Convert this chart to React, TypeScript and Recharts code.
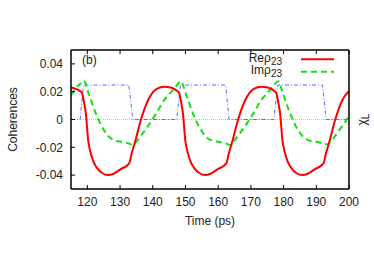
import React from 'react';
import { LineChart, Line, XAxis, YAxis, ReferenceLine } from 'recharts';

const redT = [115, 117, 118.3, 119.0, 119.5, 120.3, 121, 121.8, 123, 124.5, 126.4, 128, 130, 132.8, 133.6, 134.6, 136.4, 138.6, 141.2, 143.5, 145.5, 147.5, 148.0, 148.7, 149.2, 150.0, 150.7, 151.5, 152.7, 154.2, 156.1, 157.7, 159.7, 162.5, 163.3, 164.3, 166.1, 168.3, 170.9, 173.2, 175.2, 177.2, 177.7, 178.4, 178.9, 179.7, 180.4, 181.2, 182.4, 183.9, 185.8, 187.4, 189.4, 192.2, 193.0, 194.0, 195.8, 198.0, 200.0];
const redV = [0.023, 0.0215, 0.0195, 0.012, 0.005, -0.016, -0.024, -0.030, -0.035, -0.0385, -0.040, -0.039, -0.036, -0.0315, -0.024, -0.016, 0.0, 0.014, 0.022, 0.0236, 0.023, 0.0205, 0.0195, 0.012, 0.005, -0.016, -0.024, -0.030, -0.035, -0.0385, -0.040, -0.039, -0.036, -0.0315, -0.024, -0.016, 0.0, 0.014, 0.022, 0.0236, 0.023, 0.0205, 0.0195, 0.012, 0.005, -0.016, -0.024, -0.030, -0.035, -0.0385, -0.040, -0.039, -0.036, -0.0315, -0.024, -0.016, 0.0, 0.014, 0.0205];

const greenT = [115, 116, 117, 118, 119, 119.8, 120.5, 121.3, 122.3, 123.4, 124.4, 125.4, 126.4, 127.4, 129, 130.5, 132.3, 134.0, 135.3, 136.6, 138.3, 139.9, 141.7, 143.5, 145.3, 147, 148.7, 149.5, 150.2, 151.0, 152.0, 153.1, 154.1, 155.1, 156.1, 157.1, 158.7, 160.2, 162.0, 163.7, 165.0, 166.3, 168.0, 169.6, 171.4, 173.2, 175.0, 176.7, 178.4, 179.2, 179.9, 180.7, 181.7, 182.8, 183.8, 184.8, 185.8, 186.8, 188.4, 189.9, 191.7, 193.4, 194.7, 196.0, 197.7, 199.3, 200];
const greenV = [0.0176, 0.021, 0.024, 0.026, 0.028, 0.023, 0.018, 0.0128, 0.006, 0.0, -0.005, -0.0088, -0.012, -0.014, -0.0155, -0.016, -0.017, -0.0183, -0.015, -0.011, -0.0055, 0.0, 0.007, 0.014, 0.019, 0.0235, 0.0275, 0.023, 0.018, 0.0128, 0.006, 0.0, -0.005, -0.0088, -0.012, -0.014, -0.0155, -0.016, -0.017, -0.0183, -0.015, -0.011, -0.0055, 0.0, 0.007, 0.014, 0.019, 0.0235, 0.0275, 0.023, 0.018, 0.0128, 0.006, 0.0, -0.005, -0.0088, -0.012, -0.014, -0.0155, -0.016, -0.017, -0.0178, -0.015, -0.011, -0.0055, 0.0, 0.0025];

const blueT = [115, 117.8, 118.8, 132.7, 133.9, 147.3, 148.5, 162.3, 163.3, 177.0, 178.2, 191.9, 193.0, 200];
const blueV = [0, 0, 0.0248, 0.0248, 0, 0, 0.0248, 0.0248, 0, 0, 0.0248, 0.0248, 0, 0];

const xTicks = [120, 130, 140, 150, 160, 170, 180, 190, 200];
const yTicks = [-0.04, -0.02, 0, 0.02, 0.04];
const xDomain = [115, 200];
const yDomain = [-0.05, 0.05];

const redData = redT.map((t, i) => ({ t, v: redV[i] }));
const greenData = greenT.map((t, i) => ({ t, v: greenV[i] }));
const blueData = blueT.map((t, i) => ({ t, v: blueV[i] }));

const FONT = '"Liberation Sans", Arial, sans-serif';
const RED = '#ff0000';
const GREEN = '#11e011';
const BLUE = '#6666ff';

const LegendBox = () => (
  <svg width={278} height={30} style={{ display: 'block', overflow: 'visible' }}>
    <text x={11} y={14} fontFamily={FONT} fontSize={12} fill="#222">(b)</text>
    <text x={211} y={12} textAnchor="end" fontFamily={FONT} fontSize={12} fill="#222">
      Reρ<tspan fontSize={10} dy={3}>23</tspan>
    </text>
    <line x1={230} x2={263} y1={9.3} y2={9.3} stroke={RED} strokeWidth={2} />
    <text x={211} y={24} textAnchor="end" fontFamily={FONT} fontSize={12} fill="#222">
      Imρ<tspan fontSize={10} dy={3}>23</tspan>
    </text>
    <line x1={230} x2={263} y1={21.7} y2={21.7} stroke={GREEN} strokeWidth={2} strokeDasharray="6 4" />
  </svg>
);

export default function App() {
  return (
    <div style={{ position: 'fixed', left: 0, top: 0, width: 374, height: 262, background: '#fff' }}>
      <LineChart width={374} height={262} margin={{ top: 48, right: 0, bottom: 43, left: 0 }}>
        <XAxis
          xAxisId="b"
          type="number"
          dataKey="t"
          domain={xDomain}
          ticks={xTicks}
          allowDataOverflow
          height={30}
          tickSize={-4}
          tickMargin={12}
          axisLine={{ stroke: '#000', strokeWidth: 1.5 }}
          tickLine={{ stroke: '#000' }}
          tick={{ fontFamily: FONT, fontSize: 12, fill: '#222' }}
          label={(p: any) => {
            const vb = p.viewBox;
            return (
              <text x={vb.x + vb.width / 2} y={vb.y + 36} textAnchor="middle" fontFamily={FONT} fontSize={12} fill="#222">
                Time (ps)
              </text>
            );
          }}
        />
        <XAxis
          xAxisId="top"
          orientation="top"
          type="number"
          dataKey="t"
          domain={xDomain}
          ticks={xTicks}
          allowDataOverflow
          height={2}
          tickSize={-4}
          tickMargin={0}
          tick={{ fontSize: 1, fill: 'none' }}
          tickFormatter={() => ''}
          axisLine={{ stroke: '#000', strokeWidth: 1.5 }}
          tickLine={{ stroke: '#000' }}
        />
        <YAxis
          yAxisId="l"
          type="number"
          domain={yDomain}
          ticks={yTicks}
          allowDataOverflow
          width={71}
          tickSize={-4}
          tickMargin={12}
          axisLine={{ stroke: '#000', strokeWidth: 1.5 }}
          tickLine={{ stroke: '#000' }}
          tick={{ fontFamily: FONT, fontSize: 12, fill: '#222' }}
          label={(p: any) => {
            const vb = p.viewBox;
            const cy = vb.y + vb.height / 2;
            return (
              <text x={17} y={cy} transform={`rotate(-90 17 ${cy})`} textAnchor="middle" fontFamily={FONT} fontSize={12} fill="#222">
                Coherences
              </text>
            );
          }}
        />
        <YAxis
          yAxisId="r"
          orientation="right"
          type="number"
          domain={yDomain}
          allowDataOverflow
          width={25}
          tick={false}
          tickLine={false}
          axisLine={{ stroke: '#000', strokeWidth: 1.5 }}
          label={(p: any) => {
            const vb = p.viewBox;
            const cy = vb.y + vb.height / 2;
            const cx = vb.x + 17;
            return (
              <text x={cx} y={cy} transform={`rotate(-90 ${cx} ${cy})`} textAnchor="middle" fontFamily={FONT} fontSize={12} fill="#222">
                χ<tspan fontSize={10} dy={3}>L</tspan>
              </text>
            );
          }}
        />
        <ReferenceLine xAxisId="b" yAxisId="l" y={0} stroke="#c0c0c0" strokeWidth={1} strokeDasharray="1 1" />
        <Line xAxisId="top" yAxisId="l" data={blueData} dataKey="v" type="linear" stroke={BLUE} strokeWidth={1} strokeDasharray="4 2 1 2" dot={false} isAnimationActive={false} />
        <Line xAxisId="b" yAxisId="l" data={greenData} dataKey="v" type="monotone" stroke={GREEN} strokeWidth={2} strokeDasharray="6 4" dot={false} isAnimationActive={false} />
        <Line xAxisId="b" yAxisId="l" data={redData} dataKey="v" type="monotone" stroke={RED} strokeWidth={2} dot={false} isAnimationActive={false} />
      </LineChart>
      <div style={{ position: 'absolute', left: 71, top: 50, width: 278, height: 30, pointerEvents: 'none' }}>
        <LegendBox />
      </div>
    </div>
  );
}
